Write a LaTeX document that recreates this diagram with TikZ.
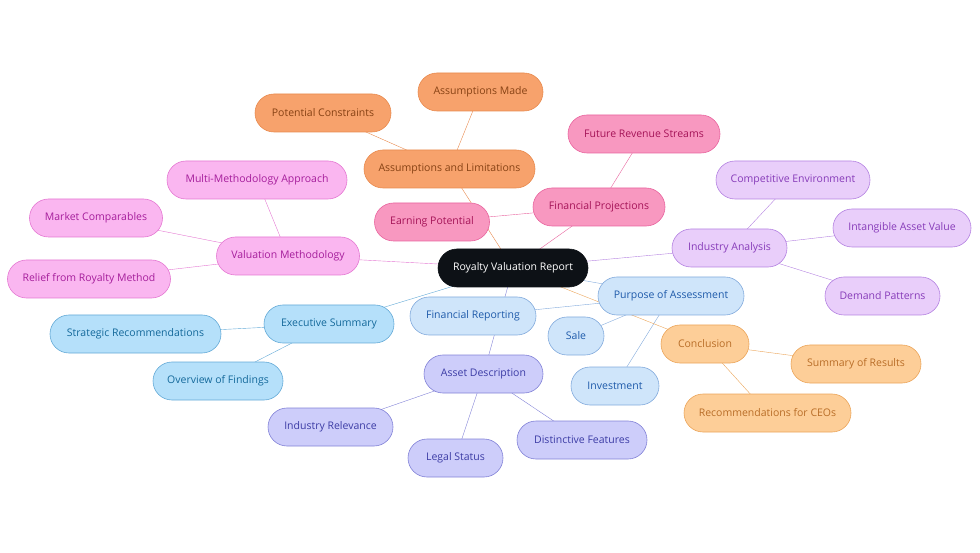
\documentclass[tikz,border=0pt]{standalone}
\usepackage{fontspec}
\setmainfont{Open Sans}
\usetikzlibrary{backgrounds}
\definecolor{asmfill}{RGB}{247,162,108}
\definecolor{asmdraw}{RGB}{232,138,78}
\definecolor{asmtext}{RGB}{135,66,20}
\definecolor{finfill}{RGB}{248,152,192}
\definecolor{findraw}{RGB}{232,100,158}
\definecolor{fintext}{RGB}{165,20,88}
\definecolor{valfill}{RGB}{250,182,240}
\definecolor{valdraw}{RGB}{228,120,210}
\definecolor{valtext}{RGB}{165,30,155}
\definecolor{indfill}{RGB}{233,206,250}
\definecolor{inddraw}{RGB}{180,130,225}
\definecolor{indtext}{RGB}{135,60,185}
\definecolor{purfill}{RGB}{207,229,250}
\definecolor{purdraw}{RGB}{130,170,220}
\definecolor{purtext}{RGB}{30,90,170}
\definecolor{conFill}{RGB}{253,206,152}
\definecolor{condraw}{RGB}{235,165,90}
\definecolor{context}{RGB}{185,110,40}
\definecolor{exefill}{RGB}{181,224,250}
\definecolor{exedraw}{RGB}{100,170,215}
\definecolor{exetext}{RGB}{20,105,155}
\definecolor{astfill}{RGB}{205,205,250}
\definecolor{astdraw}{RGB}{130,130,215}
\definecolor{asttext}{RGB}{60,60,165}
\definecolor{rootfill}{RGB}{13,17,22}
\begin{document}
\begin{tikzpicture}[x=1pt,y=-1pt,
    pill/.style={rounded corners=19pt,minimum height=38pt,inner sep=0pt,
      font=\fontsize{10.5}{12}\selectfont,line width=0.6pt},
    rootbox/.style={pill,fill=rootfill,draw=rootfill,text=white},
    asmbox/.style={pill,fill=asmfill,draw=asmdraw,text=asmtext},
    finbox/.style={pill,fill=finfill,draw=findraw,text=fintext},
    valbox/.style={pill,fill=valfill,draw=valdraw,text=valtext},
    indbox/.style={pill,fill=indfill,draw=inddraw,text=indtext},
    purbox/.style={pill,fill=purfill,draw=purdraw,text=purtext},
    conbox/.style={pill,fill=conFill,draw=condraw,text=context},
    exebox/.style={pill,fill=exefill,draw=exedraw,text=exetext},
    astbox/.style={pill,fill=astfill,draw=astdraw,text=asttext},
    link/.style={line width=1pt}]
  \useasboundingbox (0,0) rectangle (980,553);
  %% centre
  \node[rootbox,minimum width=150pt] (root) at (513,268) {Royalty Valuation Report};
  %% assumptions
  \node[asmbox,minimum width=171pt] (asl) at (449.5,169) {Assumptions and Limitations};
  \node[asmbox,minimum width=125pt] (asmade) at (480.5,92) {Assumptions Made};
  \node[asmbox,minimum width=136pt] (constr) at (323,113) {Potential Constraints};
  %% projections
  \node[finbox,minimum width=132pt] (proj) at (599,207) {Financial Projections};
  \node[finbox,minimum width=152pt] (future) at (644,134) {Future Revenue Streams};
  \node[finbox,minimum width=115pt] (earn) at (432,222) {Earning Potential};
  %% methodology
  \node[valbox,minimum width=143pt] (method) at (288,256) {Valuation Methodology};
  \node[valbox,minimum width=180pt] (multi) at (257,180) {Multi-Methodology Approach};
  \node[valbox,minimum width=133pt] (market) at (96,218) {Market Comparables};
  \node[valbox,minimum width=163pt] (relief) at (89,279) {Relief from Royalty Method};
  %% industry
  \node[indbox,minimum width=115pt] (industry) at (729.5,248) {Industry Analysis};
  \node[indbox,minimum width=154pt] (compet) at (793,180) {Competitive Environment};
  \node[indbox,minimum width=138pt] (intang) at (902,228) {Intangible Asset Value};
  \node[indbox,minimum width=115pt] (demand) at (882.5,296) {Demand Patterns};
  %% purpose
  \node[purbox,minimum width=146pt] (purpose) at (671,296) {Purpose of Assessment};
  \node[purbox,minimum width=56pt] (sale) at (576,336) {Sale};
  \node[purbox,minimum width=88pt] (invest) at (615,386) {Investment};
  \node[purbox,minimum width=126pt] (report) at (473,316) {Financial Reporting};
  %% conclusion
  \node[conbox,minimum width=88pt] (concl) at (705,344) {Conclusion};
  \node[conbox,minimum width=130pt] (summary) at (856,364) {Summary of Results};
  \node[conbox,minimum width=167pt] (recomm) at (767.5,413) {Recommendations for CEOs};
  %% executive summary
  \node[exebox,minimum width=130pt] (exec) at (329,324) {Executive Summary};
  \node[exebox,minimum width=171pt] (strat) at (135.5,334) {Strategic Recommendations};
  \node[exebox,minimum width=130pt] (overview) at (218,381) {Overview of Findings};
  %% asset
  \node[astbox,minimum width=119pt] (asset) at (483.5,374) {Asset Description};
  \node[astbox,minimum width=125pt] (relev) at (330.5,427) {Industry Relevance};
  \node[astbox,minimum width=95pt] (legal) at (455.5,458) {Legal Status};
  \node[astbox,minimum width=130pt] (distinct) at (582,440) {Distinctive Features};
  %% connectors
  \begin{scope}[on background layer,link]
    \draw[asmdraw] (root.center) -- (asl.center);
    \draw[asmdraw] (asl.center) -- (asmade.center);
    \draw[asmdraw] (asl.center) -- (constr.center);
    \draw[findraw] (root.center) -- (proj.center);
    \draw[findraw] (proj.center) -- (future.center);
    \draw[findraw] (proj.center) -- (earn.center);
    \draw[valdraw] (root.center) -- (method.center);
    \draw[valdraw] (method.center) -- (multi.center);
    \draw[valdraw] (method.center) -- (market.center);
    \draw[valdraw] (method.center) -- (relief.center);
    \draw[inddraw] (root.center) -- (industry.center);
    \draw[inddraw] (industry.center) -- (compet.center);
    \draw[inddraw] (industry.center) -- (intang.center);
    \draw[inddraw] (industry.center) -- (demand.center);
    \draw[purdraw] (root.center) -- (purpose.center);
    \draw[purdraw] (purpose.center) -- (sale.center);
    \draw[purdraw] (purpose.center) -- (invest.center);
    \draw[purdraw] (purpose.center) -- (report.center);
    \draw[condraw] (root.center) -- (concl.center);
    \draw[condraw] (concl.center) -- (summary.center);
    \draw[condraw] (concl.center) -- (recomm.center);
    \draw[exedraw] (root.center) -- (exec.center);
    \draw[exedraw] (exec.center) -- (strat.center);
    \draw[exedraw] (exec.center) -- (overview.center);
    \draw[astdraw] (root.center) -- (asset.center);
    \draw[astdraw] (asset.center) -- (relev.center);
    \draw[astdraw] (asset.center) -- (legal.center);
    \draw[astdraw] (asset.center) -- (distinct.center);
  \end{scope}
\end{tikzpicture}
\end{document}
